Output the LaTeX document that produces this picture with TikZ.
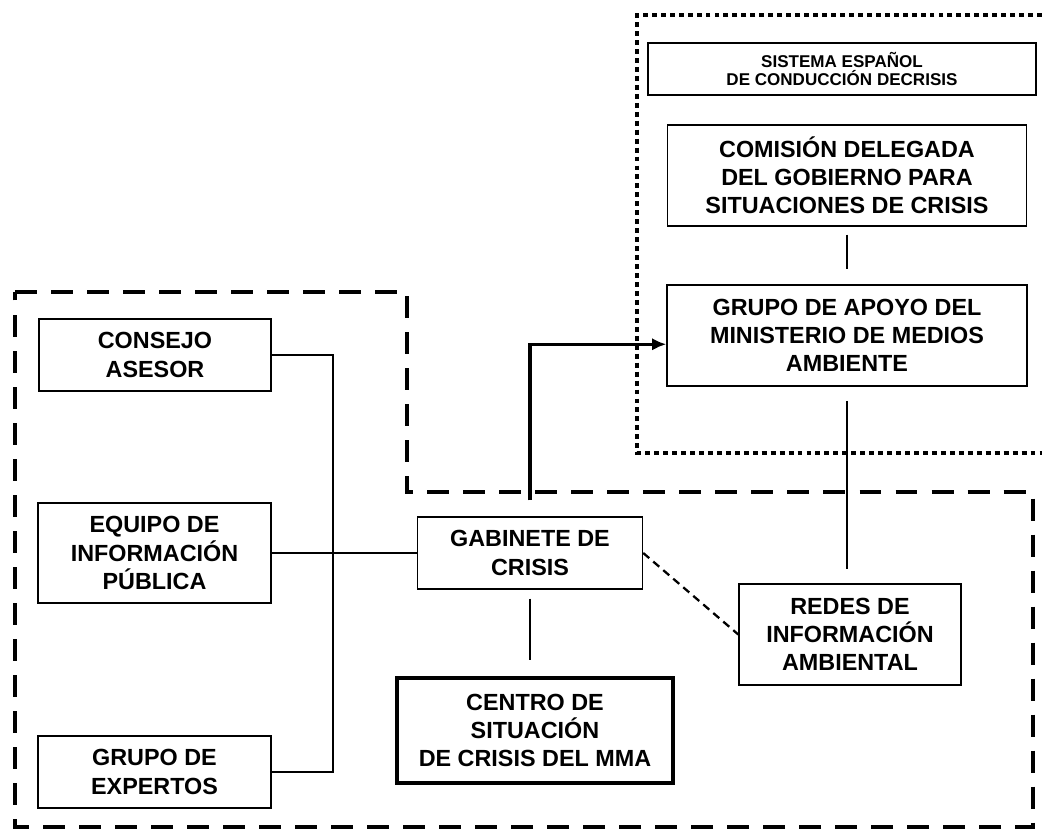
\documentclass[tikz,border=0pt]{standalone}
\usepackage{fontspec}
\setmainfont{Liberation Sans}
\usetikzlibrary{arrows.meta}

\tikzset{
	box/.style={draw, line width=0.85pt, align=center, font=\fontsize{13.3}{16}\selectfont\bfseries, inner sep=2pt},
	thickbox/.style={box, line width=2.3pt},
	titlebox/.style={box, font=\fontsize{9.7}{10.5}\selectfont\bfseries},
	link/.style={line width=1.6pt},
	region/.style={line width=2.3pt, dash pattern=on 12.5pt off 8pt},
	dotregion/.style={line width=2.8pt, dash pattern=on 2.8pt off 2.3pt}
}

\begin{document}
\begin{tikzpicture}[x=0.02cm, y=-0.02cm]
		\useasboundingbox (0, 0) rectangle (1042, 830);

		\draw[dotregion]	(1042, 15) -- (637, 15) -- (637, 453) -- (1042, 453);
		\draw[region]		(15, 292) -- (407, 292) -- (407, 492) -- (1033, 492) -- (1033, 827) -- (15, 827) -- cycle;

		\node[titlebox, minimum width=7.76cm, minimum height=1.04cm]	(sistema)	at (842, 69)	{SISTEMA ESPAÑOL\\DE CONDUCCIÓN DECRISIS};
		\node[box, minimum width=7.18cm, minimum height=2.02cm]	(comision)	at (847, 175.5)	{COMISIÓN DELEGADA\\DEL GOBIERNO PARA\\SITUACIONES DE CRISIS};
		\node[box, minimum width=7.2cm, minimum height=2.02cm]		(apoyo)		at (847, 335.5)	{GRUPO DE APOYO DEL\\MINISTERIO DE MEDIOS\\AMBIENTE};

		\node[box, minimum width=4.64cm, minimum height=1.44cm]	(consejo)	at (155, 355)	{CONSEJO\\ASESOR};
		\node[box, minimum width=4.66cm, minimum height=2.0cm]		(equipo)	at (154.5, 553)	{EQUIPO DE\\INFORMACIÓN\\PÚBLICA};
		\node[box, minimum width=4.66cm, minimum height=1.44cm]	(expertos)	at (154.5, 772)	{GRUPO DE\\EXPERTOS};

		\node[box, minimum width=4.5cm, minimum height=1.44cm]		(gabinete)	at (530, 553)	{GABINETE DE\\CRISIS};
		\node[thickbox, minimum width=5.52cm, minimum height=2.1cm]	(centro)	at (535, 730.5)	{CENTRO DE\\SITUACIÓN\\DE CRISIS DEL MMA};
		\node[box, minimum width=4.44cm, minimum height=2.02cm]	(redes)		at (850, 634.5)	{REDES DE\\INFORMACIÓN\\AMBIENTAL};

		\coordinate (bus) at (333, 553);

		\draw[link]	(consejo.east) -| (bus) |- (expertos.east);
		\draw[link]	(equipo.east) -- (gabinete.west);
		\draw[-{Latex[length=8pt, width=7pt]}, line width=1.9pt, shorten <=9pt]	(gabinete.north) |- ([yshift=-5pt]apoyo.west);
		\draw[link, shorten <=5pt, shorten >=9pt]	(gabinete.south) -- (gabinete.south |- centro.north);
		\draw[link, shorten <=4.5pt, shorten >=8.5pt]	(comision.south) -- (comision.south |- apoyo.north);
		\draw[link, shorten <=8pt, shorten >=8pt]	(apoyo.south) -- (apoyo.south |- redes.north);
		\draw[line width=1.3pt, dash pattern=on 4.5pt off 3pt]	(gabinete.east) -- (redes.west);
	\end{tikzpicture}
\end{document}
